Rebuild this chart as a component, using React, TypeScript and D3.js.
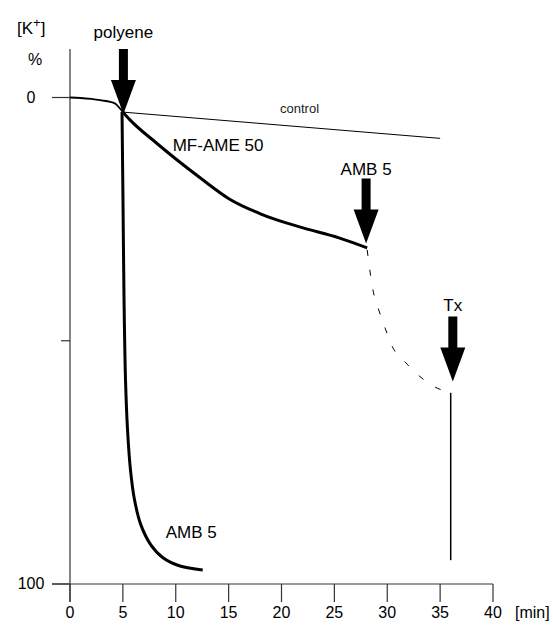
import React from "react";
import * as d3 from "d3";

const xTicks = [0, 5, 10, 15, 20, 25, 30, 35, 40];
const yTickLabels = [
  { v: 0, label: "0" },
  { v: 50, label: "" },
  { v: 100, label: "100" },
];

// baseline before polyene addition
const preTime = [0, 1, 2, 3, 3.8, 4.3, 4.7, 5];
const preVal = [0, 0.1, 0.3, 0.6, 0.9, 1.3, 2.2, 3.0];

// control
const ctrlTime = [5, 35];
const ctrlVal = [3.0, 8.4];

// MF-AME 50
const mfTime = [5, 5.67, 8.2, 10.1, 12.3, 15.1, 18.0, 21.7, 25.5, 28.1];
const mfVal = [3.0, 4.6, 9.4, 12.8, 16.5, 20.9, 23.9, 26.6, 28.9, 30.9];

// AMB 5 after MF-AME (dashed)
const dashTime = [28.1, 28.65, 29.2, 29.8, 30.5, 31.7, 32.9, 34.5, 35.7];
const dashVal = [31.3, 39.6, 43.7, 47.4, 51.3, 54.4, 57.0, 59.5, 60.5];

// AMB 5 direct
const ambTime = [4.92, 5.01, 5.11, 5.25, 5.44, 5.72, 6.1, 6.71, 7.66, 8.79, 10.4, 12.55];
const ambVal = [3.0, 21.1, 41.6, 58.1, 68.3, 76.6, 82.7, 87.9, 92.0, 94.6, 96.3, 97.1];

// Tx line
const txTime = [36.0, 36.0];
const txVal = [60.7, 95.1];

// arrows: tip position in data units
const arrows = [
  { t: 5.05, v: 3.4, label: "polyene", labelDy: -76 },
  { t: 28.0, v: 30.0, label: "AMB 5", labelDy: -68 },
  { t: 36.2, v: 58.4, label: "Tx", labelDy: -71 },
];

const x = d3.scaleLinear().domain([0, 40]).range([70, 493]);
const y = d3.scaleLinear().domain([0, 100]).range([97.5, 584]);

const toPts = (ts: number[], vs: number[]) => ts.map((t, i) => [t, vs[i]] as [number, number]);

const lineMono = d3
  .line<[number, number]>()
  .x((d) => x(d[0]))
  .y((d) => y(d[1]))
  .curve(d3.curveMonotoneX);
const lineCR = d3
  .line<[number, number]>()
  .x((d) => x(d[0]))
  .y((d) => y(d[1]))
  .curve(d3.curveCatmullRom.alpha(0.5));
const lineLin = d3
  .line<[number, number]>()
  .x((d) => x(d[0]))
  .y((d) => y(d[1]));

function arrowPath(tx: number, ty: number) {
  const shaftW = 9;
  const headW = 25;
  const headH = 34;
  const shaftL = 31;
  const top = ty - headH - shaftL;
  const hb = ty - headH;
  return `M${tx - shaftW / 2},${top} L${tx + shaftW / 2},${top} L${tx + shaftW / 2},${hb} L${tx + headW / 2},${hb} L${tx},${ty} L${tx - headW / 2},${hb} L${tx - shaftW / 2},${hb} Z`;
}

export default function App() {
  const font = "Arial, 'Liberation Sans', sans-serif";
  return (
    <svg width={553} height={626} style={{ position: "absolute", left: 0, top: 0 }} fontFamily={font}>
      <rect width={553} height={626} fill="#fff" />
      {/* axes */}
      <line x1={70} x2={70} y1={49} y2={602} stroke="#333" strokeWidth={1.2} />
      <line x1={52} x2={x(40)} y1={y(100)} y2={y(100)} stroke="#333" strokeWidth={1.2} />
      {yTickLabels.map((t) => (
        <g key={t.v}>
          <line x1={t.v === 50 ? 61 : 52} x2={70} y1={y(t.v)} y2={y(t.v)} stroke="#333" strokeWidth={1.2} />
          {t.label && (
            <text x={31} y={y(t.v) + 5} textAnchor="middle" fontSize={16} fill="#000">
              {t.label}
            </text>
          )}
        </g>
      ))}
      {xTicks.map((t) => (
        <g key={t}>
          <line x1={x(t)} x2={x(t)} y1={y(100)} y2={602} stroke="#333" strokeWidth={1.2} />
          <text x={x(t)} y={618} textAnchor="middle" fontSize={16} fill="#000">
            {t}
          </text>
        </g>
      ))}
      <text x={515} y={618} fontSize={16} fill="#000">[min]</text>
      <text x={17} y={34} fontSize={17} fill="#000">
        [K<tspan dy={-7} fontSize={13}>+</tspan><tspan dy={7}>]</tspan>
      </text>
      <text x={28} y={65} fontSize={16} fill="#000">%</text>

      {/* curves */}
      <path d={lineMono(toPts(preTime, preVal)) || ""} fill="none" stroke="#000" strokeWidth={1.8} />
      <path d={lineLin(toPts(ctrlTime, ctrlVal)) || ""} fill="none" stroke="#000" strokeWidth={1} />
      <path d={lineMono(toPts(mfTime, mfVal)) || ""} fill="none" stroke="#000" strokeWidth={3} />
      <path d={lineCR(toPts(ambTime, ambVal)) || ""} fill="none" stroke="#000" strokeWidth={3} />
      <path
        d={lineMono(toPts(dashTime, dashVal)) || ""}
        fill="none"
        stroke="#000"
        strokeWidth={1}
        strokeDasharray="6,14"
      />
      <path d={lineLin(toPts(txTime, txVal)) || ""} fill="none" stroke="#000" strokeWidth={1.5} />

      {/* arrows */}
      {arrows.map((a) => (
        <g key={a.label}>
          <path d={arrowPath(x(a.t), y(a.v))} fill="#000" />
          <text x={x(a.t)} y={y(a.v) + a.labelDy} textAnchor="middle" fontSize={17} fill="#000">
            {a.label}
          </text>
        </g>
      ))}

      {/* labels */}
      <text x={280} y={112.5} fontSize={13} fill="#222">control</text>
      <text x={172.7} y={150.7} fontSize={17} fill="#000">MF-AME 50</text>
      <text x={165.7} y={538} fontSize={17} fill="#000">AMB 5</text>
    </svg>
  );
}
